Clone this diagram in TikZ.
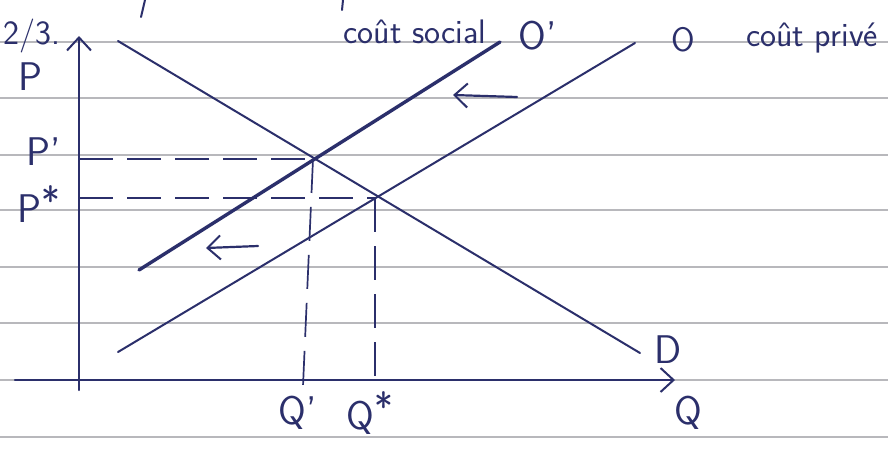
\documentclass[tikz,border=0pt]{standalone}
\usetikzlibrary{arrows.meta}
\definecolor{ink}{HTML}{2B2F6B}
\definecolor{rule}{HTML}{B8B8BC}
\begin{document}
\begin{tikzpicture}[x=1pt,y=-1pt,
  ruled/.style={draw=rule,line width=1.3pt},
  curve/.style={draw=ink,line width=2pt,line cap=round},
  thickcurve/.style={draw=ink,line width=3.4pt,line cap=round},
  axis/.style={draw=ink,line width=2.2pt,line cap=round},
  guide/.style={draw=ink,line width=1.7pt,dash pattern=on 34pt off 14pt},
  chev/.style={-{Straight Barb[length=13pt,width=24pt,line width=2pt]}},
  lbl/.style={text=ink,font=\sffamily\fontsize{40}{42}\selectfont,inner sep=0pt},
  word/.style={text=ink,font=\sffamily\fontsize{34}{36}\selectfont,inner sep=0pt}]
\useasboundingbox[fill=white] (0,0) rectangle (888,448);
% ruled paper
\foreach \yy in {42,98,155,210,267,323,380,437}
  \draw[ruled] (0,\yy) -- (888,\yy);
% stray strokes from previous line
\draw[curve] (145,0) -- (141,17);
\draw[curve] (343,0) -- (342,10);
% key coordinates
\coordinate (yb) at (79,390);
\coordinate (yt) at (79,36);
\coordinate (xl) at (15,380);
\coordinate (xr) at (675,380);
\coordinate (d1) at (118,41);
\coordinate (d2) at (640,353);
\coordinate (s1) at (118,352);
\coordinate (s2) at (635,43);
\coordinate (t1) at (139,270);
\coordinate (t2) at (500,42);
\coordinate (E1) at (313,159);
\coordinate (E0) at (375,198);
\coordinate (pa1) at (79,159);
\coordinate (pa0) at (79,198);
\coordinate (qa1) at (303,386);
\coordinate (qa0) at (375,386);
\coordinate (ua) at (517,97);
\coordinate (ub) at (453,95);
\coordinate (la) at (258,246);
\coordinate (lb) at (206,248);
% axes
\draw[axis,chev] (yb) -- (yt);
\draw[axis,chev] (xl) -- (xr);
% curves
\draw[curve] (d1) -- (d2);
\draw[curve] (s1) -- (s2);
\draw[thickcurve] (t1) -- (t2);
% guides
\draw[guide] (pa1) -- (E1);
\draw[guide] (pa0) -- (E0);
\draw[guide] (E1) -- (qa1);
\draw[guide] (E0) -- (qa0);
% shift arrows
\draw[axis,chev] (ua) -- (ub);
\draw[axis,chev] (la) -- (lb);
% labels
\node[word] (n23) at (32,36) {2/3.};
\node[lbl] (nP) at (30,77) {P};
\node[lbl] (nP1) at (44,152) {P'};
\node[lbl] (nP0) at (39,204) {P\raisebox{0.45ex}{*}};
\node[lbl] (nD) at (668,350) {D};
\node[word] (nO) at (683,40) {O};
\node[word] (npriv) at (812,38) {coût privé};
\node[lbl] (nO1) at (538,36) {O'};
\node[word] (nsoc) at (415,32) {coût social};
\node[lbl] (nQ1) at (298,413) {Q'};
\node[lbl] (nQ0) at (370,413) {Q\raisebox{0.45ex}{*}};
\node[lbl] (nQ) at (688,413) {Q};
\end{tikzpicture}
\end{document}
